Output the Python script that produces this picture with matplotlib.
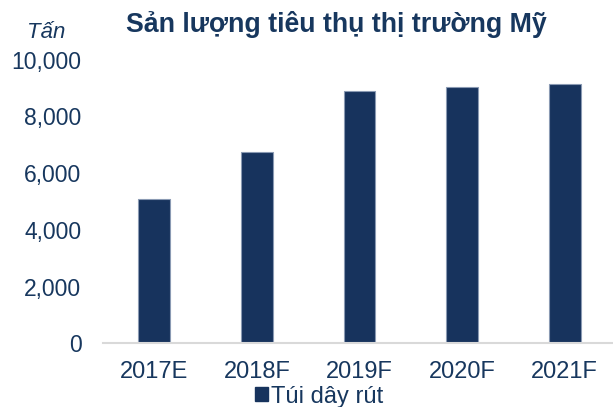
import matplotlib
matplotlib.use("Agg")
import matplotlib.pyplot as plt
from matplotlib.patches import Patch
from matplotlib.ticker import FuncFormatter

# dữ liệu
years = ["2017E", "2018F", "2019F", "2020F", "2021F"]
tui_day_rut = [5080, 6740, 8910, 9030, 9130]
y_ticks = [0, 2000, 4000, 6000, 8000, 10000]

navy = "#17335D"
text_color = "#17375E"

plt.rcParams["font.family"] = ["Liberation Sans", "DejaVu Sans"]

fig = plt.figure(figsize=(6.13, 4.07), dpi=100)
ax = fig.add_axes([103 / 613, 1 - 343.3 / 407, 513 / 613, 283.5 / 407])

ax.bar(range(len(years)), tui_day_rut, width=0.31, color=navy,
       edgecolor="#8a9ab3", linewidth=0.8)

ax.set_xlim(-0.5, len(years) - 0.5)
ax.set_ylim(0, 10000)
ax.set_yticks(y_ticks)
ax.yaxis.set_major_formatter(FuncFormatter(lambda v, p: f"{int(v):,}"))
ax.set_xticks(range(len(years)))
ax.set_xticklabels(years)

for s in ["top", "right", "left"]:
    ax.spines[s].set_visible(False)
ax.spines["bottom"].set_color("#d9d9d9")
ax.spines["bottom"].set_linewidth(1.5)

ax.tick_params(axis="y", length=0, pad=15.5, labelsize=16.5, labelcolor=text_color)
ax.tick_params(axis="x", length=0, pad=13, labelsize=17, labelcolor=text_color)

# tiêu đề và đơn vị
fig.text(336 / 613, 1 - 31.7 / 407, "Sản lượng tiêu thụ thị trường Mỹ",
         ha="center", va="baseline", fontsize=19.3, fontweight="bold", color=text_color)
fig.text(26.7 / 613, 1 - 38 / 407, "Tấn", ha="left", va="baseline",
         fontsize=16, fontstyle="italic", color=text_color)

handle = Patch(facecolor=navy, edgecolor=navy)
fig.legend([handle], ["Túi dây rút"], loc="center left",
           bbox_to_anchor=(255 / 613, 1 - 396.5 / 407), frameon=False,
           fontsize=17, handlelength=0.54, handleheight=0.54,
           handletextpad=0.15, borderpad=0, borderaxespad=0,
           labelcolor=text_color)

plt.savefig("out.png", dpi=100)
